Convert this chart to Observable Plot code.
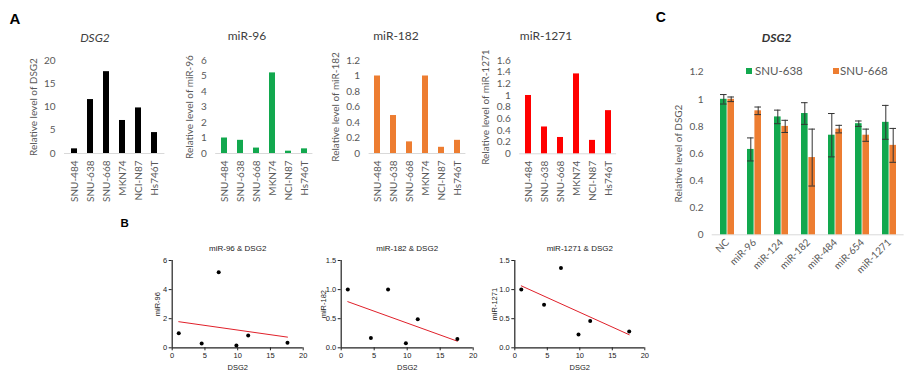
<!DOCTYPE html>
<html><head><meta charset="utf-8">
<script src="https://cdn.jsdelivr.net/npm/d3@7"></script>
<script src="https://cdn.jsdelivr.net/npm/@observablehq/plot@0.6"></script>
<style>
body{margin:0;background:#fff;}
#root{position:relative;width:918px;height:374px;overflow:hidden;background:#fff;}
.t{position:absolute;line-height:1;white-space:nowrap;transform:translate(-50%,-50%);}
.l{position:absolute;line-height:1;white-space:nowrap;transform:translate(0,-50%);}
.sw{position:absolute;width:6px;height:6px;}
.pb{position:absolute;}
.pb svg{background:transparent !important;overflow:visible;}
</style></head><body><div id="root"></div>
<script>
// ---- data ----
const cellLines = ["SNU-484", "SNU-638", "SNU-668", "MKN74", "NCI-N87", "Hs746T"];
const dsg2Level = [1.0, 11.6, 17.6, 7.1, 9.8, 4.5];
const mir96Level = [1.0, 0.85, 0.35, 5.2, 0.15, 0.3];
const mir182Level = [1.0, 0.49, 0.15, 1.0, 0.08, 0.17];
const mir1271Level = [1.0, 0.46, 0.28, 1.37, 0.23, 0.74];

const dsg2Ticks = [0, 5, 10, 15, 20];
const mir96Ticks = [0, 1, 2, 3, 4, 5, 6];
const mir182Ticks = [0, 0.2, 0.4, 0.6, 0.8, 1.0, 1.2];
const mir1271Ticks = [0, 0.2, 0.4, 0.6, 0.8, 1.0, 1.2, 1.4, 1.6];

const scatterXTicks = [0, 5, 10, 15, 20];
const scatter96Ticks = [0, 2, 4, 6];
const scatterSmallTicks = [0, 0.5, 1.0, 1.5];

const treatments = ["NC", "miR-96", "miR-124", "miR-182", "miR-484", "miR-654", "miR-1271"];
const seriesNames = ["SNU-638", "SNU-668"];
const snu638 = [1.0, 0.63, 0.87, 0.895, 0.735, 0.82, 0.83];
const snu638Err = [0.035, 0.085, 0.05, 0.08, 0.16, 0.02, 0.125];
const snu668 = [1.0, 0.915, 0.80, 0.57, 0.78, 0.735, 0.66];
const snu668Err = [0.017, 0.028, 0.045, 0.21, 0.028, 0.045, 0.125];
const cTicks = [0, 0.2, 0.4, 0.6, 0.8, 1.0, 1.2];

const GREEN = "#12a84e", ORANGE = "#ed7d31", RED = "#ff0000";
const XLFONT = "Lato, 'Open Sans', sans-serif";
const GPFONT = "'Liberation Sans', Arial, sans-serif";
const fmt1 = d => String(+d.toFixed(1));

const root = document.getElementById("root");
function place(svg, left, top) {
  const d = document.createElement("div");
  d.className = "pb"; d.style.left = left + "px"; d.style.top = top + "px";
  d.appendChild(svg); root.appendChild(d);
}
function text(str, cls, x, y, css) {
  const d = document.createElement("div");
  d.className = cls; d.textContent = str;
  d.style.left = x + "px"; d.style.top = y + "px";
  Object.assign(d.style, css); root.appendChild(d);
  return d;
}

// ---- Panel A bar charts ----
function barPanel(o) {
  const data = cellLines.map((c, i) => ({cell: c, value: o.values[i]}));
  return Plot.plot({
    width: o.width, height: 200,
    marginLeft: o.ml, marginRight: o.mr, marginTop: 60, marginBottom: o.mb,
    style: {background: "transparent", fontFamily: XLFONT, fontSize: "10px", color: "#595959"},
    x: {domain: cellLines, paddingInner: 0.63, paddingOuter: 0.315},
    y: {domain: [0, o.yMax]},
    marks: [
      Plot.ruleY([0], {stroke: "#d9d9d9"}),
      Plot.barY(data, {x: "cell", y: "value", fill: o.color}),
      Plot.axisX({tickRotate: -90, tickSize: 0, tickPadding: 7, label: null, fontSize: 10}),
      Plot.axisY({ticks: o.ticks, tickFormat: fmt1, tickSize: 0, tickPadding: 9, fontSize: 10,
        label: o.yLabel, labelAnchor: "center", labelArrow: "none", labelOffset: o.lo})
    ]
  });
}
place(barPanel({width: 175, ml: 64, mr: 10.6, mb: 47, yMax: 20, ticks: dsg2Ticks, values: dsg2Level,
  color: "#000", yLabel: "Relative level of DSG2", lo: 35}), 0, 0);
place(barPanel({width: 170, ml: 65.2, mr: 7.6, mb: 47, yMax: 6, ticks: mir96Ticks, values: mir96Level,
  color: GREEN, yLabel: "Relative level of miR-96", lo: 30}), 150, 0);
place(barPanel({width: 165, ml: 58.6, mr: 9.6, mb: 47, yMax: 1.2, ticks: mir182Ticks, values: mir182Level,
  color: ORANGE, yLabel: "Relative level of miR-182", lo: 37}), 310, 0);
place(barPanel({width: 170, ml: 59.2, mr: 13.9, mb: 46.7, yMax: 1.6, ticks: mir1271Ticks, values: mir1271Level,
  color: RED, yLabel: "Relative level of miR-1271", lo: 38}), 460, 0);

// ---- Panel B scatter plots ----
function scatterPanel(o) {
  const data = cellLines.map((c, i) => ({dsg2: dsg2Level[i], mir: o.values[i]}));
  return Plot.plot({
    width: 180, height: 134,
    marginLeft: o.ml, marginRight: o.mr, marginTop: 20, marginBottom: 26.7,
    style: {background: "transparent", fontFamily: GPFONT, fontSize: "7.5px", color: "#222"},
    x: {domain: [0, 20]},
    y: {domain: [0, o.yMax]},
    marks: [
      Plot.ruleX([0], {strokeWidth: 1.2}),
      Plot.ruleY([0], {strokeWidth: 1.2}),
      Plot.axisX({ticks: scatterXTicks, tickSize: 3, tickPadding: 2, fontSize: 7.5,
        label: "DSG2", labelAnchor: "center", labelArrow: "none", labelOffset: 22}),
      Plot.axisY({ticks: o.ticks, tickFormat: o.fmt, tickSize: 3, tickPadding: 2, fontSize: 7.5,
        label: o.yLabel, labelAnchor: "center", labelArrow: "none", labelOffset: o.lo}),
      Plot.linearRegressionY(data, {x: "dsg2", y: "mir", stroke: "#e0202a", strokeWidth: 1, ci: 0}),
      Plot.dot(data, {x: "dsg2", y: "mir", r: 2, fill: "#000"}),
      Plot.text([o.title], {frameAnchor: "top", dy: -15, fontSize: 8, fill: "#222"})
    ]
  });
}
place(scatterPanel({ml: 41.7, mr: 7.3, yMax: 6, ticks: scatter96Ticks, fmt: d => String(d), values: mir96Level,
  yLabel: "miR-96", lo: 17.5, title: "miR-96 & DSG2"}), 130, 240);
place(scatterPanel({ml: 40.7, mr: 7.3, yMax: 1.5, ticks: scatterSmallTicks, fmt: d3.format(".1f"), values: mir182Level,
  yLabel: "miR-182", lo: 21, title: "miR-182 & DSG2"}), 300, 240);
place(scatterPanel({ml: 44.3, mr: 5.7, yMax: 1.5, ticks: scatterSmallTicks, fmt: d3.format(".1f"), values: mir1271Level,
  yLabel: "miR-1271", lo: 23, title: "miR-1271 & DSG2"}), 470, 240);

// ---- Panel C grouped bars ----
const cGreen = treatments.map((t, i) => ({t, s: seriesNames[0], v: snu638[i], e: snu638Err[i]}));
const cOrange = treatments.map((t, i) => ({t, s: seriesNames[1], v: snu668[i], e: snu668Err[i]}));
const half = 7.4;
place(Plot.plot({
  width: 278, height: 300,
  marginLeft: 71.7, marginRight: 14.4, marginTop: 71.7, marginBottom: 65.7,
  style: {background: "transparent", fontFamily: XLFONT, fontSize: "10px", color: "#595959"},
  x: {domain: treatments, paddingInner: 0.49, paddingOuter: 0.25},
  y: {domain: [0, 1.2]},
  color: {domain: seriesNames, range: [GREEN, ORANGE]},
  marks: [
    Plot.ruleY([0], {stroke: "#d9d9d9"}),
    Plot.barY(cGreen, {x: "t", y: "v", fill: "s", insetRight: half}),
    Plot.barY(cOrange, {x: "t", y: "v", fill: "s", insetLeft: half}),
    Plot.ruleX(cGreen, {x: "t", y1: d => d.v - d.e, y2: d => d.v + d.e, dx: -3.7, stroke: "#333"}),
    Plot.tickY(cGreen, {x: "t", y: d => d.v + d.e, insetRight: half, stroke: "#333"}),
    Plot.tickY(cGreen, {x: "t", y: d => d.v - d.e, insetRight: half, stroke: "#333"}),
    Plot.ruleX(cOrange, {x: "t", y1: d => d.v - d.e, y2: d => d.v + d.e, dx: 3.7, stroke: "#333"}),
    Plot.tickY(cOrange, {x: "t", y: d => d.v + d.e, insetLeft: half, stroke: "#333"}),
    Plot.tickY(cOrange, {x: "t", y: d => d.v - d.e, insetLeft: half, stroke: "#333"}),
    Plot.axisX({tickRotate: -45, tickSize: 0, tickPadding: 6, label: null, fontSize: 10}),
    Plot.axisY({ticks: cTicks, tickFormat: fmt1, tickSize: 0, tickPadding: 8.7, fontSize: 10,
      label: "Relative level of DSG2", labelAnchor: "center", labelArrow: "none", labelOffset: 37})
  ]
}), 640, 0);

// ---- titles, panel letters, legend ----
const bold = {fontFamily: GPFONT, fontWeight: "bold", color: "#000"};
text("A", "t", 15, 17.5, {...bold, fontSize: "15px"});
text("B", "t", 124.7, 224, {...bold, fontSize: "11.5px"});
text("C", "t", 660.8, 17, {...bold, fontSize: "14px"});
const ttl = {fontFamily: XLFONT, fontSize: "12px", color: "#404040"};
text("DSG2", "t", 95, 38.3, {...ttl, fontStyle: "italic"});
text("miR-96", "t", 247, 36, ttl);
text("miR-182", "t", 396, 36, ttl);
text("miR-1271", "t", 546, 36, ttl);
text("DSG2", "t", 776.7, 37.5, {...ttl, fontStyle: "italic", fontWeight: "bold", color: "#333"});
// legend
const legendItems = [{x: 746, tx: 755}, {x: 833, tx: 840}];
seriesNames.forEach((name, i) => {
  const sw = document.createElement("div");
  sw.className = "sw"; sw.style.left = legendItems[i].x + "px"; sw.style.top = "68px";
  sw.style.background = [GREEN, ORANGE][i]; root.appendChild(sw);
  text(name, "l", legendItems[i].tx, 71, {fontFamily: XLFONT, fontSize: "11.5px", color: "#595959"});
});
</script></body></html>
